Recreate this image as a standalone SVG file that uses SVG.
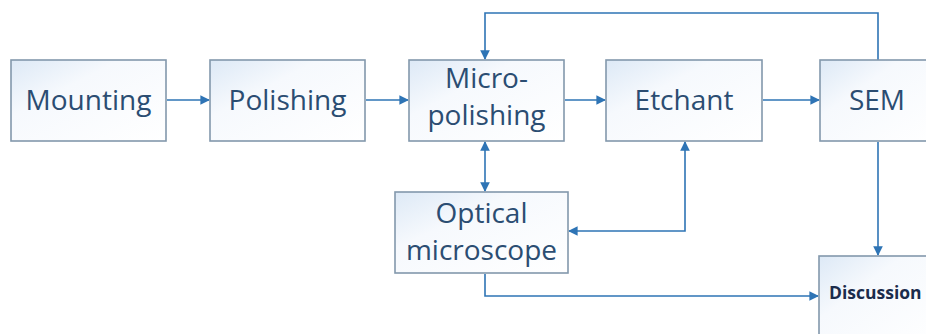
<svg xmlns="http://www.w3.org/2000/svg" width="926" height="334" viewBox="0 0 926 334">
  <defs>
    <linearGradient id="boxfill" x1="0" y1="0" x2="1" y2="1">
      <stop offset="0" stop-color="#dde9f6"/>
      <stop offset="0.35" stop-color="#f6f9fd"/>
      <stop offset="1" stop-color="#ffffff"/>
    </linearGradient>
    <marker id="arrow" viewBox="0 0 10 10" refX="9" refY="5" markerWidth="6" markerHeight="6" markerUnits="strokeWidth" orient="auto-start-reverse">
      <path d="M0,0 L10,5 L0,10 Z" fill="#2e74b5"/>
    </marker>
  </defs>
  <style>
    .box { fill: url(#boxfill); stroke: #8398ac; stroke-width: 1.6; }
    .lbl { font-family: "Open Sans", "Liberation Sans", sans-serif; font-size: 28px; fill: #2b4d72; text-anchor: middle; }
    .small { font-family: "Open Sans", "Liberation Sans", sans-serif; font-size: 17.5px; font-weight: bold; fill: #1b2c4c; }
    .conn { fill: none; stroke: #2e74b5; stroke-width: 1.6; }
  </style>
  <rect width="926" height="334" fill="#ffffff"/>

  <g id="connectors">
    <path class="conn" d="M167,100 H209" marker-end="url(#arrow)"/>
    <path class="conn" d="M366,100 H408" marker-end="url(#arrow)"/>
    <path class="conn" d="M565,100 H605" marker-end="url(#arrow)"/>
    <path class="conn" d="M763,100 H819" marker-end="url(#arrow)"/>
    <path class="conn" d="M878,60 V13 H485 V59" marker-end="url(#arrow)"/>
    <path class="conn" d="M485,142 V191" marker-start="url(#arrow)" marker-end="url(#arrow)"/>
    <path class="conn" d="M685,142 V231 H569" marker-start="url(#arrow)" marker-end="url(#arrow)"/>
    <path class="conn" d="M878,142 V255" marker-end="url(#arrow)"/>
    <path class="conn" d="M485,274 V296 H818" marker-end="url(#arrow)"/>
  </g>

  <g id="mounting">
    <rect class="box" x="11" y="60" width="155" height="81"/>
    <text class="lbl" x="88.5" y="110">Mounting</text>
  </g>
  <g id="polishing">
    <rect class="box" x="210" y="60" width="155" height="81"/>
    <text class="lbl" x="287.5" y="110">Polishing</text>
  </g>
  <g id="micropolishing">
    <rect class="box" x="409" y="60" width="155" height="81"/>
    <text class="lbl" x="486.5" y="88">Micro-</text>
    <text class="lbl" x="486.5" y="125">polishing</text>
  </g>
  <g id="etchant">
    <rect class="box" x="606" y="60" width="156" height="81"/>
    <text class="lbl" x="684" y="110">Etchant</text>
  </g>
  <g id="sem">
    <rect class="box" x="820" y="60" width="116" height="81"/>
    <text class="lbl" x="877" y="110">SEM</text>
  </g>
  <g id="optical">
    <rect class="box" x="395" y="192" width="173" height="81"/>
    <text class="lbl" x="481.5" y="223">Optical</text>
    <text class="lbl" x="481.5" y="260">microscope</text>
  </g>
  <g id="discussion">
    <rect class="box" x="819" y="256" width="120" height="90"/>
    <text class="small" x="829" y="299">Discussion</text>
  </g>
</svg>
